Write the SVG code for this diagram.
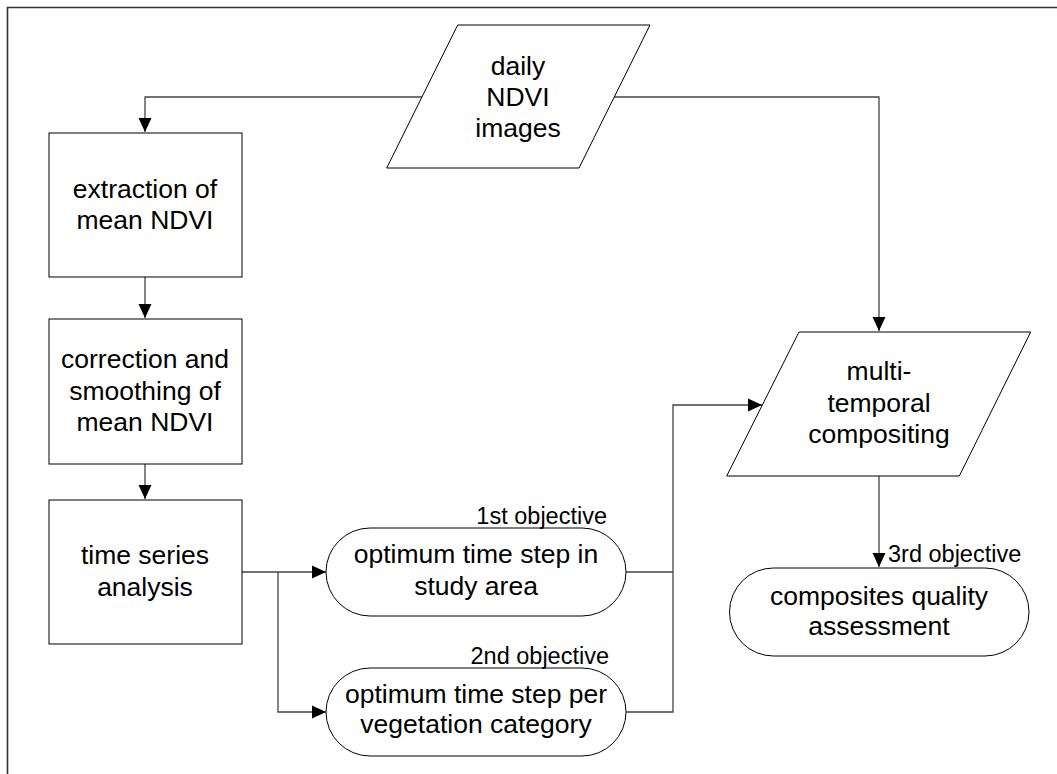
<svg xmlns="http://www.w3.org/2000/svg" width="1057" height="774" viewBox="0 0 1057 774">
<style>
.shape{fill:#fff;stroke:#000;stroke-width:1}
.conn{fill:none;stroke:#444;stroke-width:1.3}
.t{font-family:"Liberation Sans",Arial,sans-serif;font-size:26.5px;fill:#000;text-anchor:middle}
.lbl{font-family:"Liberation Sans",Arial,sans-serif;font-size:23.5px;fill:#000}
</style>
<defs>
<marker id="arr" markerWidth="14" markerHeight="14" viewBox="0 0 14 14" refX="14" refY="7" orient="auto" markerUnits="userSpaceOnUse">
<path d="M0,0.5 L14,7 L0,13.5 Z" fill="#000"/>
</marker>
</defs>
<rect width="1057" height="774" fill="#fff"/>
<path d="M7.5,774 V7.5 H1057" fill="none" stroke="#333" stroke-width="1.6"/>

<g id="connectors">
<path class="conn" d="M422,97 H145 V132" marker-end="url(#arr)"/>
<path class="conn" d="M614,97 H879 V331" marker-end="url(#arr)"/>
<path class="conn" d="M145,277 V318" marker-end="url(#arr)"/>
<path class="conn" d="M145,464 V499" marker-end="url(#arr)"/>
<path class="conn" d="M242,572 H326" marker-end="url(#arr)"/>
<path class="conn" d="M278,572 V712 H326" marker-end="url(#arr)"/>
<path class="conn" d="M626,572 H673"/>
<path class="conn" d="M626,712 H673 V405 H762" marker-end="url(#arr)"/>
<path class="conn" d="M879,476 V567" marker-end="url(#arr)"/>
</g>

<g id="daily">
<polygon class="shape" points="457.7,25 650,25 579,168 386.7,168"/>
<text class="t" x="518" y="75">daily</text>
<text class="t" x="518" y="106">NDVI</text>
<text class="t" x="518" y="137">images</text>
</g>

<g id="extraction">
<rect class="shape" x="49" y="133" width="193" height="144"/>
<text class="t" x="145" y="198">extraction of</text>
<text class="t" x="145" y="229">mean NDVI</text>
</g>

<g id="correction">
<rect class="shape" x="49" y="319" width="193" height="145"/>
<text class="t" x="145" y="368">correction and</text>
<text class="t" x="145" y="400">smoothing of</text>
<text class="t" x="145" y="431">mean NDVI</text>
</g>

<g id="timeseries">
<rect class="shape" x="49" y="500" width="193" height="144"/>
<text class="t" x="145" y="564">time series</text>
<text class="t" x="145" y="596">analysis</text>
</g>

<g id="objective1">
<rect class="shape" x="326" y="528" width="300" height="88" rx="44" ry="44"/>
<text class="lbl" x="607" y="524" text-anchor="end">1st objective</text>
<text class="t" x="476" y="563">optimum time step in</text>
<text class="t" x="476" y="595">study area</text>
</g>

<g id="objective2">
<rect class="shape" x="326" y="668" width="300" height="88" rx="44" ry="44"/>
<text class="lbl" x="609" y="664" text-anchor="end">2nd objective</text>
<text class="t" x="476" y="703">optimum time step per</text>
<text class="t" x="476" y="733">vegetation category</text>
</g>

<g id="multitemporal">
<polygon class="shape" points="799,332 1030.7,332 959.3,476 726.7,476"/>
<text class="t" x="879" y="380">multi-</text>
<text class="t" x="879" y="412">temporal</text>
<text class="t" x="879" y="443">compositing</text>
</g>

<g id="composites">
<rect class="shape" x="729.5" y="568" width="299.5" height="88" rx="44" ry="44"/>
<text class="lbl" x="888" y="562">3rd objective</text>
<text class="t" x="879" y="605">composites quality</text>
<text class="t" x="879" y="635">assessment</text>
</g>
</svg>
